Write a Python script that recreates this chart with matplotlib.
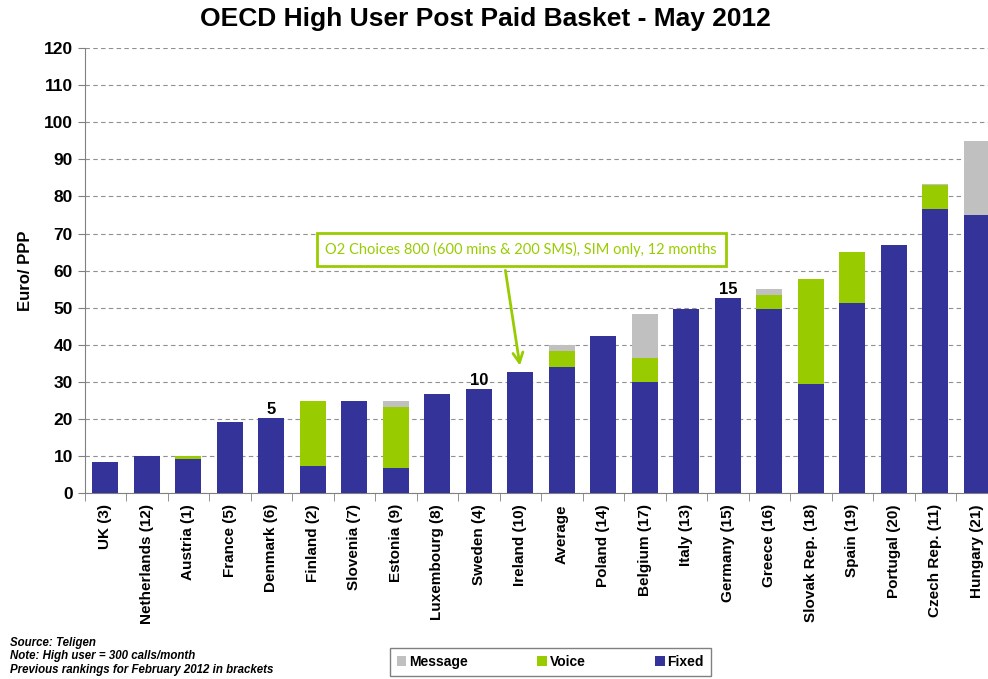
import matplotlib.pyplot as plt
import numpy as np

countries = ["UK (3)", "Netherlands (12)", "Austria (1)", "France (5)", "Denmark (6)",
             "Finland (2)", "Slovenia (7)", "Estonia (9)", "Luxembourg (8)", "Sweden (4)",
             "Ireland (10)", "Average", "Poland (14)", "Belgium (17)", "Italy (13)",
             "Germany (15)", "Greece (16)", "Slovak Rep. (18)", "Spain (19)",
             "Portugal (20)", "Czech Rep. (11)", "Hungary (21)"]
fixed = [8.4, 9.9, 9.1, 19.2, 20.2, 7.2, 24.9, 6.7, 26.7, 28.0, 32.6, 34.1,
         42.3, 30.0, 49.5, 52.5, 49.7, 29.3, 51.2, 67.0, 76.6, 75.0]
voice = [0, 0, 0.8, 0, 0, 17.7, 0, 16.4, 0, 0, 0, 4.3,
         0, 6.5, 0, 0, 3.7, 28.3, 13.9, 0, 6.4, 0]
message = [0, 0, 0, 0, 0, 0, 0, 1.8, 0, 0, 0, 1.6,
           0, 11.7, 0, 0, 1.6, 0, 0, 0, 0.4, 19.9]
# previous ranking markers shown above some bars
rank_marks = {"Denmark (6)": "5", "Sweden (4)": "10", "Germany (15)": "15"}

C_FIXED, C_VOICE, C_MSG = "#333399", "#99cc00", "#c0c0c0"
plt.rcParams['font.family'] = ['Liberation Sans', 'DejaVu Sans']

fig = plt.figure(figsize=(9.88, 6.79), dpi=100)
ax = fig.add_axes([0.0856, 0.274, 0.9241, 0.655])

x = np.arange(len(countries))
fixed_a, voice_a, msg_a = np.array(fixed), np.array(voice), np.array(message)
w = 0.63
ax.bar(x, fixed_a, w, color=C_FIXED, label="Fixed", zorder=3)
ax.bar(x, voice_a, w, bottom=fixed_a, color=C_VOICE, label="Voice", zorder=3)
ax.bar(x, msg_a, w, bottom=fixed_a + voice_a, color=C_MSG, label="Message", zorder=3)

tops = fixed_a + voice_a + msg_a
for name, lab in rank_marks.items():
    i = countries.index(name)
    ax.text(i, tops[i] + 0.3, lab, ha='center', va='bottom', fontsize=12,
            fontweight='bold', zorder=4)

ax.set_xlim(-0.5, len(countries) - 0.5)
ax.set_ylim(0, 120)
ax.set_yticks(np.arange(0, 121, 10))
ax.tick_params(axis='y', labelsize=12.5, direction='out', length=5, color='#808080')
for t in ax.get_yticklabels():
    t.set_fontweight('bold')
ax.set_xticks(x)
ax.set_xticklabels(countries, rotation=90, fontsize=11, fontweight='bold')
ax.tick_params(axis='x', length=0, pad=8)
ax.set_xticks(np.arange(-0.5, len(countries), 1), minor=True)
ax.tick_params(axis='x', which='minor', length=6, direction='out', color='#808080')
ax.grid(axis='y', linestyle=(0, (4, 3)), color='#909090', linewidth=0.8, zorder=0)
for s in ['top', 'right']:
    ax.spines[s].set_visible(False)
ax.spines['left'].set_color('#808080')
ax.spines['bottom'].set_color('#808080')
ax.set_ylabel("Euro/ PPP", fontsize=12, fontweight='bold', labelpad=8)

fig.suptitle("OECD High User Post Paid Basket - May 2012", fontsize=19,
             fontweight='bold', x=0.491, y=0.99)

ax.text(10.02, 65.7, "O2 Choices 800 (600 mins & 200 SMS), SIM only, 12 months",
        ha='center', va='center', fontsize=10.5, color=C_VOICE, family='Lato',
        bbox=dict(boxstyle='square,pad=0.6', fc='white', ec=C_VOICE, lw=2), zorder=5)
ax.annotate("", xy=(10.0, 33.6), xytext=(9.63, 60.8),
            arrowprops=dict(arrowstyle='->', color=C_VOICE, lw=2,
                            mutation_scale=18), zorder=5)

handles, labels = ax.get_legend_handles_labels()
leg = fig.legend(handles[::-1], labels[::-1], loc='center', ncol=3,
                 bbox_to_anchor=(0.557, 0.025), frameon=True, fancybox=False,
                 edgecolor='#606060', prop=dict(size=10, weight='bold'),
                 handlelength=0.7, handleheight=0.7, handletextpad=0.2,
                 columnspacing=5, borderpad=0.5)
leg.get_frame().set_linewidth(1)

fig.text(0.01, 0.062, "Source: Teligen\nNote: High user = 300 calls/month\n"
         "Previous rankings for February 2012 in brackets",
         fontsize=8.3, style='italic', fontweight='bold', va='top', linespacing=1.15)

fig.savefig("out.png", dpi=100)
